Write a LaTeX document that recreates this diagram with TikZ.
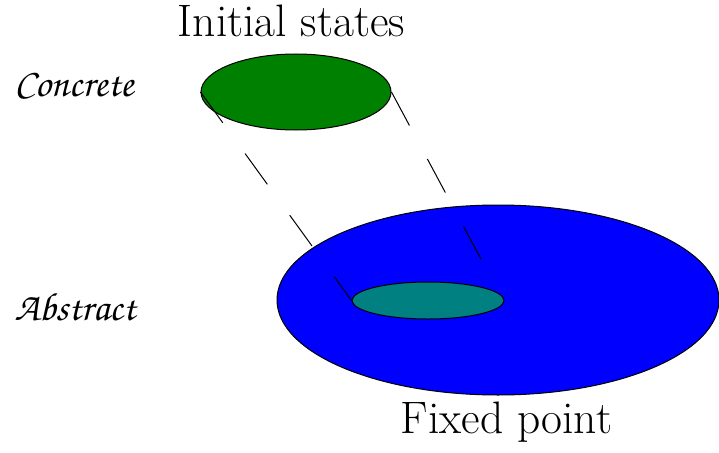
\documentclass[tikz,border=0pt]{standalone}
\usepackage{fontspec}
\usepackage[T1,TU]{fontenc}
\usetikzlibrary{shapes.geometric}
\definecolor{cgreen}{RGB}{0,128,0}
\definecolor{cblue}{RGB}{0,0,255}
\definecolor{cteal}{RGB}{0,128,128}
\newcommand{\chanc}{\usefont{T1}{pzc}{mb}{it}}
\tikzset{
  blob/.style={ellipse, draw=black, line width=1pt, inner sep=0pt},
  proj/.style={draw=black, line width=1pt, dash pattern=on 38pt off 38pt},
  bigtext/.style={font=\fontsize{45.5}{50}\selectfont, inner sep=0pt, anchor=base},
  sidetext/.style={font=\chanc\fontsize{39.5}{42}\selectfont, inner sep=0pt, anchor=base}
}
\begin{document}
\begin{tikzpicture}[x=1pt,y=-1pt]
\useasboundingbox (0,0) rectangle (719,452);
\node[blob, fill=cgreen, minimum width=190pt, minimum height=76pt] (init) at (296,92) {};
\node[blob, fill=cblue, minimum width=442pt, minimum height=190pt] (abs) at (498,300) {};
\node[blob, fill=cteal, minimum width=152pt, minimum height=37pt] (fix) at (428,300.5) {};
\coordinate (rend) at (482,261);
\draw[proj] (init.west) -- (fix.west);
\draw[proj] (init.east) -- (rend);
\node[bigtext] (tinit) at (291.5,37) {Initial states};
\node[bigtext] (tfix) at (506.5,433) {Fixed point};
\node[sidetext] (tcon) at (74,96) {Concrete};
\node[sidetext] (tabs) at (75,320) {Abstract};
\end{tikzpicture}
\end{document}
